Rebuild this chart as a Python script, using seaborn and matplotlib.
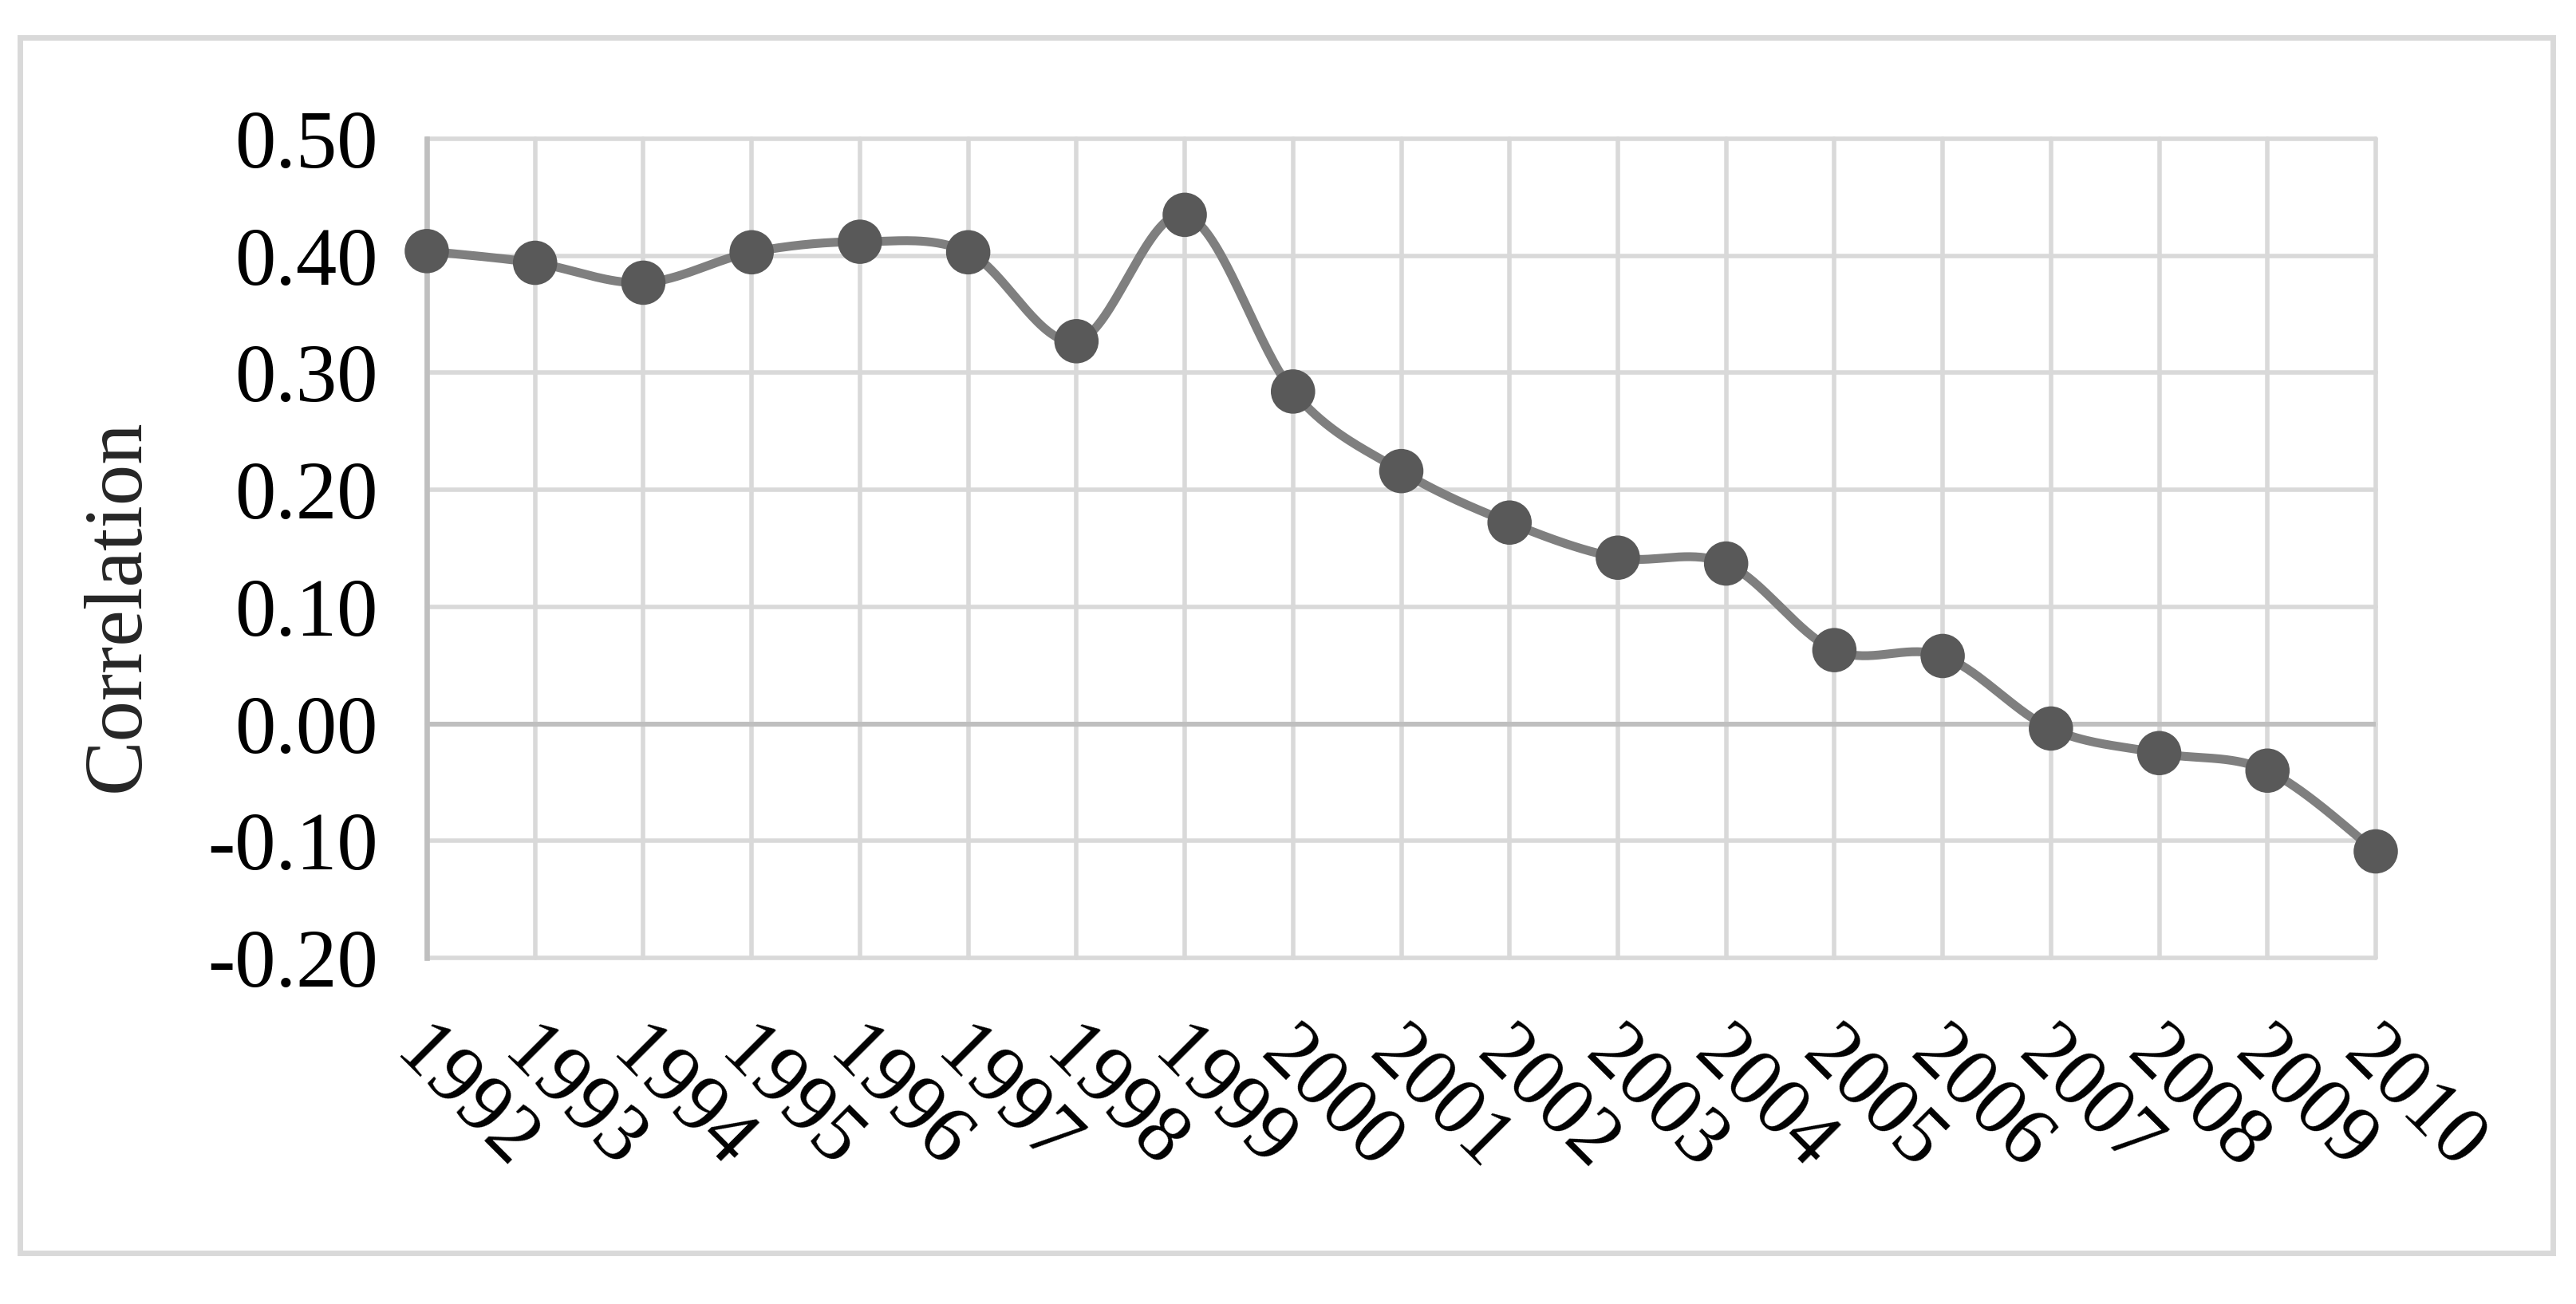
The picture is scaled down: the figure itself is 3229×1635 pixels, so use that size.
import numpy as np
import pandas as pd
import matplotlib
matplotlib.use("Agg")
import matplotlib.pyplot as plt
import seaborn as sns
from matplotlib.transforms import ScaledTranslation
from matplotlib.patches import Rectangle

years = [1992, 1993, 1994, 1995, 1996, 1997, 1998, 1999, 2000, 2001,
         2002, 2003, 2004, 2005, 2006, 2007, 2008, 2009, 2010]
correlation = [0.404, 0.394, 0.377, 0.403, 0.412, 0.403, 0.327, 0.435, 0.284, 0.216,
               0.172, 0.142, 0.137, 0.063, 0.058, -0.004, -0.025, -0.040, -0.109]
y_ticks = [-0.20, -0.10, 0.00, 0.10, 0.20, 0.30, 0.40, 0.50]
y_label = "Correlation"

sns.set_theme(style="white")
plt.rcParams['font.family'] = ['Liberation Serif', 'DejaVu Serif']

DPI = 200
fig = plt.figure(figsize=(3229 / DPI, 1635 / DPI), dpi=DPI)
ax = fig.add_axes([535 / 3229, 1 - 1201 / 1635, (2978 - 535) / 3229, (1201 - 174) / 1635])

# Excel-like smoothed line (Bezier through the data points)
x = np.array(years, dtype=float)
y = np.array(correlation, dtype=float)
xs, ys = [], []
n = len(x)
t = np.linspace(0, 1, 40)
for i in range(n - 1):
    p0 = np.array([x[i], y[i]])
    p3 = np.array([x[i + 1], y[i + 1]])
    pm = np.array([x[i - 1], y[i - 1]]) if i > 0 else p0
    pp = np.array([x[i + 2], y[i + 2]]) if i + 2 < n else p3
    c1 = p0 + (p3 - pm) / 6.0
    c2 = p3 - (pp - p0) / 6.0
    for tt in t:
        b = ((1 - tt) ** 3) * p0 + 3 * ((1 - tt) ** 2) * tt * c1 + 3 * (1 - tt) * tt ** 2 * c2 + tt ** 3 * p3
        xs.append(b[0]); ys.append(b[1])
smooth = pd.DataFrame({"year": xs, "corr": ys})
df = pd.DataFrame({"year": years, "corr": correlation})

sns.lineplot(data=smooth, x="year", y="corr", ax=ax, sort=False, estimator=None,
             color="#7f7f7f", linewidth=4.0, zorder=3, clip_on=False)
sns.scatterplot(data=df, x="year", y="corr", ax=ax, s=20 ** 2, color="#595959",
                edgecolor="none", zorder=4, clip_on=False)

ax.set_xlim(1992, 2010)
ax.set_ylim(-0.2, 0.5)
ax.set_xticks(years)
ax.set_xticklabels([str(v) for v in years])
ax.set_yticks(y_ticks)
ax.set_yticklabels([f"{v:.2f}" for v in y_ticks])

ax.grid(True, which="major", axis="both", color="#d9d9d9", linewidth=2.0, zorder=0)
ax.set_axisbelow(True)
for gl in ax.get_xgridlines() + ax.get_ygridlines():
    gl.set_clip_on(False)
ax.axhline(0, color="#bfbfbf", linewidth=2.2, zorder=1)
for s in ["top", "right", "bottom"]:
    ax.spines[s].set_visible(False)
ax.spines["left"].set_color("#bfbfbf")
ax.spines["left"].set_linewidth(2.4)

ax.tick_params(axis="both", length=0, labelsize=37, colors="black")
ax.tick_params(axis="y", pad=22)
ax.tick_params(axis="x", pad=38)
offset = ScaledTranslation(-26 / DPI, 0, fig.dpi_scale_trans)
for lab in ax.get_xticklabels():
    lab.set_rotation(-45)
    lab.set_ha("left")
    lab.set_va("center")
    lab.set_rotation_mode("anchor")
    lab.set_transform(lab.get_transform() + offset)

ax.set_xlabel("")
ax.set_ylabel(y_label, fontsize=37)
ax.yaxis.set_label_coords(-0.139, 0.43)

fig.patches.append(Rectangle((25 / 3229, 1 - 1571 / 1635), (3200 - 25) / 3229, (1571 - 47) / 1635,
                             transform=fig.transFigure, fill=False, edgecolor="#d9d9d9",
                             linewidth=2.5, zorder=0))

fig.savefig("out.png", dpi=DPI, facecolor="white")
